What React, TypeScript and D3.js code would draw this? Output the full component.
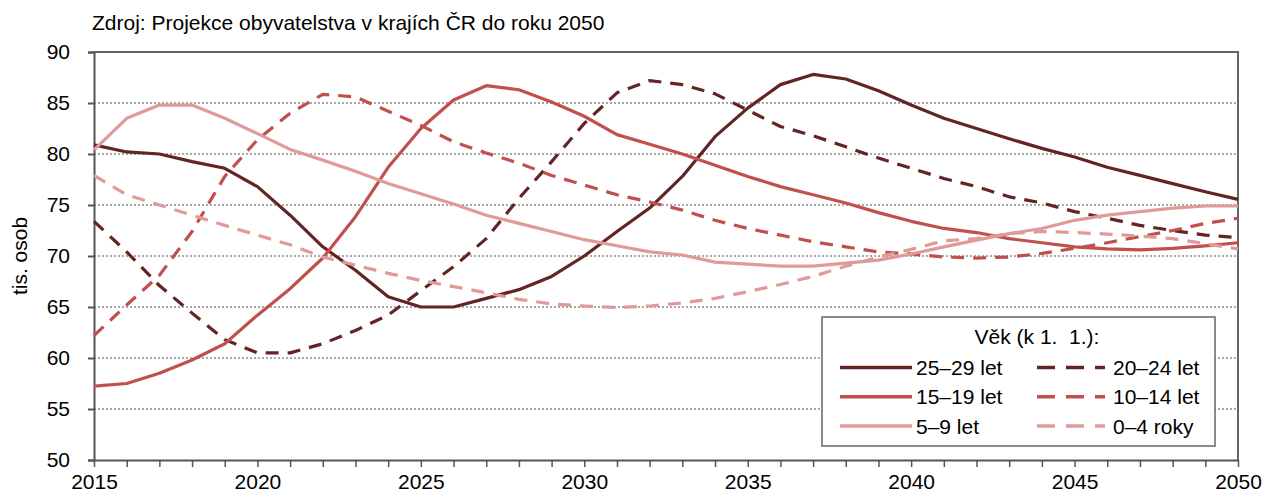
import { useEffect, useRef } from "react";
import * as d3 from "d3";

const years = d3.range(2015, 2051);

const age25_29 = [80.9, 80.2, 80.0, 79.25, 78.6, 76.8, 74.0, 70.9, 68.6, 66.0, 65.0, 65.0, 65.85, 66.7, 68.0, 70.0, 72.4, 74.7, 77.8, 81.7, 84.5, 86.8, 87.8, 87.35, 86.2, 84.8, 83.5, 82.5, 81.5, 80.55, 79.7, 78.7, 77.9, 77.1, 76.3, 75.55];
const age20_24 = [73.4, 70.4, 67.1, 64.4, 61.8, 60.5, 60.5, 61.4, 62.7, 64.2, 66.6, 68.95, 71.7, 75.65, 79.25, 83.0, 86.0, 87.2, 86.8, 85.9, 84.3, 82.7, 81.8, 80.7, 79.6, 78.6, 77.6, 76.8, 75.8, 75.2, 74.35, 73.7, 73.0, 72.5, 72.05, 71.8];
const age15_19 = [57.25, 57.5, 58.5, 59.8, 61.4, 64.2, 66.8, 69.8, 73.85, 78.7, 82.5, 85.3, 86.7, 86.3, 85.1, 83.7, 81.9, 80.95, 80.0, 78.9, 77.8, 76.8, 76.0, 75.2, 74.25, 73.4, 72.7, 72.3, 71.7, 71.3, 70.9, 70.7, 70.6, 70.75, 71.0, 71.3];
const age10_14 = [62.2, 65.2, 68.1, 72.4, 77.8, 81.4, 84.0, 85.85, 85.6, 84.2, 82.8, 81.2, 80.1, 79.1, 77.9, 76.95, 76.0, 75.3, 74.5, 73.5, 72.7, 72.05, 71.4, 70.9, 70.4, 70.2, 69.9, 69.8, 69.9, 70.25, 70.75, 71.3, 71.9, 72.5, 73.2, 73.7];
const age5_9 = [80.4, 83.5, 84.8, 84.8, 83.5, 82.0, 80.45, 79.4, 78.3, 77.1, 76.1, 75.1, 74.0, 73.2, 72.4, 71.6, 71.0, 70.4, 70.1, 69.4, 69.2, 69.0, 69.0, 69.3, 69.6, 70.2, 70.9, 71.55, 72.2, 72.7, 73.5, 74.0, 74.35, 74.7, 74.9, 74.9];
const age0_4 = [77.9, 76.0, 75.0, 74.0, 73.0, 72.05, 71.1, 69.9, 69.1, 68.3, 67.6, 67.0, 66.4, 65.75, 65.3, 65.1, 64.95, 65.1, 65.4, 65.85, 66.5, 67.2, 68.0, 69.0, 69.9, 70.65, 71.5, 71.7, 72.2, 72.4, 72.3, 72.15, 71.95, 71.7, 71.2, 70.7];

const seriesNames = ["25–29 let", "20–24 let", "15–19 let", "10–14 let", "5–9 let", "0–4 roky"];
const seriesValues = [age25_29, age20_24, age15_19, age10_14, age5_9, age0_4];
const seriesColors = ["#632523", "#632523", "#c0504d", "#c0504d", "#e09a98", "#e09a98"];
const seriesDashed = [false, true, false, true, false, true];

const yTicks = [50, 55, 60, 65, 70, 75, 80, 85, 90];
const xLabelYears = [2015, 2020, 2025, 2030, 2035, 2040, 2045, 2050];

const W = 1265, H = 498;
const FONT = "'Liberation Sans', Arial, sans-serif";
const FS = 21;

export default function App() {
  const ref = useRef(null);

  useEffect(() => {
    const svg = d3.select(ref.current);
    svg.selectAll("*").remove();

    const left = 94, right = 1238, top = 52, bottom = 460;
    const x = d3.scaleLinear().domain([2015, 2050]).range([left, right]);
    const y = d3.scaleLinear().domain([50, 90]).range([bottom, top]);

    svg.append("rect").attr("width", W).attr("height", H).attr("fill", "#fff");

    svg.append("text")
      .attr("x", 92).attr("y", 30)
      .attr("font-family", FONT).attr("font-size", FS).attr("fill", "#000")
      .text("Zdroj: Projekce obyvatelstva v krajích ČR do roku 2050");

    // gridlines
    svg.append("g").selectAll("line")
      .data(yTicks.filter(d => d > 50 && d < 90))
      .join("line")
      .attr("x1", left).attr("x2", right)
      .attr("y1", d => y(d)).attr("y2", d => y(d))
      .attr("stroke", "#8c8c8c").attr("stroke-width", 1.5)
      .attr("stroke-dasharray", "2,2");

    // frame top & right
    svg.append("path")
      .attr("d", `M${left},${top}H${right}V${bottom}`)
      .attr("fill", "none").attr("stroke", "#666").attr("stroke-width", 2);

    const yAxis = d3.axisLeft(y).tickValues(yTicks).tickSize(6).tickPadding(18);
    const gy = svg.append("g").attr("transform", `translate(${left},0)`).call(yAxis);
    gy.select(".domain").attr("stroke", "#555").attr("stroke-width", 2);
    gy.selectAll(".tick line").attr("stroke", "#555").attr("stroke-width", 2);
    gy.selectAll(".tick text").attr("font-family", FONT).attr("font-size", FS).attr("fill", "#000");

    const xAxis = d3.axisBottom(x).tickValues(years).tickSize(7).tickSizeOuter(0)
      .tickFormat(d => (xLabelYears.includes(+d) ? String(d) : ""));
    const gx = svg.append("g").attr("transform", `translate(0,${bottom})`).call(xAxis);
    gx.select(".domain").attr("stroke", "#555").attr("stroke-width", 2);
    gx.selectAll(".tick line").attr("stroke", "#555").attr("stroke-width", 1.5);
    gx.selectAll(".tick text").attr("font-family", FONT).attr("font-size", FS).attr("fill", "#000")
      .attr("y", 22).attr("dy", "0.35em");

    svg.append("text")
      .attr("transform", `translate(27,${(top + bottom) / 2}) rotate(-90)`)
      .attr("text-anchor", "middle")
      .attr("font-family", FONT).attr("font-size", FS).attr("fill", "#000")
      .text("tis. osob");

    const line = d3.line<number>().x((_, i) => x(years[i])).y(d => y(d));

    seriesValues.forEach((vals, i) => {
      svg.append("path")
        .datum(vals)
        .attr("d", line)
        .attr("fill", "none")
        .attr("stroke", seriesColors[i])
        .attr("stroke-width", 3.2)
        .attr("stroke-linejoin", "round")
        .attr("stroke-dasharray", seriesDashed[i] ? "13,9" : null);
    });

    // legend
    const lg = svg.append("g");
    lg.append("rect")
      .attr("x", 822).attr("y", 317).attr("width", 393).attr("height", 129)
      .attr("fill", "#fff").attr("stroke", "#666").attr("stroke-width", 1.5);
    lg.append("text")
      .attr("x", 1037).attr("y", 344).attr("text-anchor", "middle")
      .attr("font-family", FONT).attr("font-size", FS).attr("fill", "#000")
      .style("white-space", "pre")
      .text("Věk (k 1.  1.):");

    seriesNames.forEach((name, i) => {
      const col = i % 2, row = Math.floor(i / 2);
      const lx = col === 0 ? 840 : 1037;
      const ly = 367.5 + row * 29.3;
      lg.append("line")
        .attr("x1", lx).attr("x2", lx + (col === 0 ? 72 : 68)).attr("y1", ly).attr("y2", ly)
        .attr("stroke", seriesColors[i]).attr("stroke-width", 3.5)
        .attr("stroke-dasharray", seriesDashed[i] ? "18,11" : null);
      lg.append("text")
        .attr("x", col === 0 ? 916 : 1113).attr("y", ly + 7.5)
        .attr("font-family", FONT).attr("font-size", FS).attr("fill", "#000")
        .text(name);
    });
  }, []);

  return (
    <svg
      ref={ref}
      width={W}
      height={H}
      style={{ display: "block", position: "absolute", left: 0, top: 0 }}
    />
  );
}
